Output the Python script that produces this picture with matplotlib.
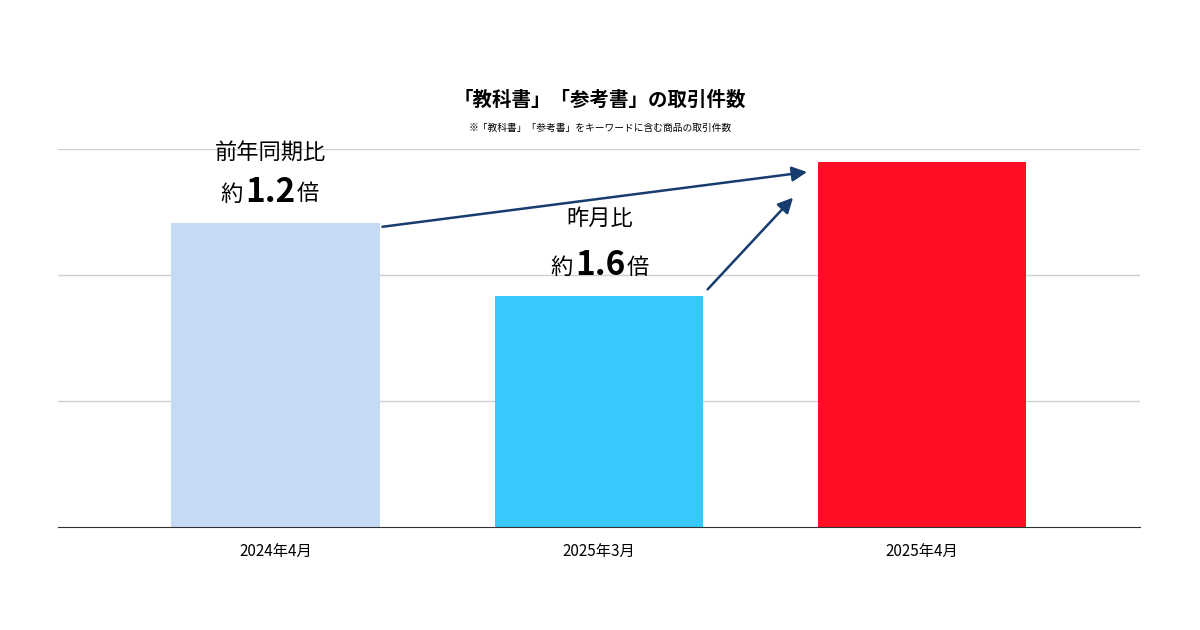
import matplotlib.pyplot as plt

plt.rcParams['font.family'] = 'Noto Sans CJK JP'

categories = ['2024年4月', '2025年3月', '2025年4月']
values = [2.41, 1.83, 2.90]
colors = ['#c5daf5', '#36c8fe', '#ff0f26']

fig = plt.figure(figsize=(12, 6.3), dpi=100)
ax = fig.add_axes([0.048, 0.1635, 0.902, 0.6])
ax.bar(range(3), values, width=0.645, color=colors, zorder=2)
ax.set_xlim(-0.675, 2.675)
ax.set_ylim(0, 3)
ax.set_yticks([1, 2, 3])
ax.yaxis.grid(True, color='#d0d0d0', lw=1, zorder=0)
ax.tick_params(left=False, labelleft=False, bottom=False, labelsize=11, pad=8)
ax.set_xticks(range(3))
ax.set_xticklabels(categories)
for s in ['top', 'right', 'left']:
    ax.spines[s].set_visible(False)
ax.spines['bottom'].set_color('#333333')

navy = '#173c6e'
ap = dict(arrowstyle='-|>,head_length=0.9,head_width=0.45', color=navy, lw=1.8)
ax.annotate('', xy=(1.653, 2.82), xytext=(0.322, 2.38), arrowprops=ap, annotation_clip=False)
ax.annotate('', xy=(1.607, 2.63), xytext=(1.331, 1.87), arrowprops=ap, annotation_clip=False)

def px(x, y):
    return x / 1200, 1 - y / 630

fig.text(*px(600, 100), '「教科書」「参考書」の取引件数', ha='center', va='center', fontsize=14, fontweight='bold')
fig.text(*px(600, 128), '※「教科書」「参考書」をキーワードに含む商品の取引件数', ha='center', va='center', fontsize=7)

def ratio(xc, y1, y2, head, num):
    fig.text(*px(xc, y1), head, ha='center', va='center', fontsize=16)
    fig.text(*px(xc - 27, y2 + 2), '約', ha='right', va='center', fontsize=16)
    fig.text(*px(xc, y2), num, ha='center', va='center', fontsize=24, fontweight='bold')
    fig.text(*px(xc + 27, y2 + 2), '倍', ha='left', va='center', fontsize=16)

ratio(270, 152, 192, '前年同期比', '1.2')
ratio(600, 218, 265, '昨月比', '1.6')

fig.savefig('out.png')
